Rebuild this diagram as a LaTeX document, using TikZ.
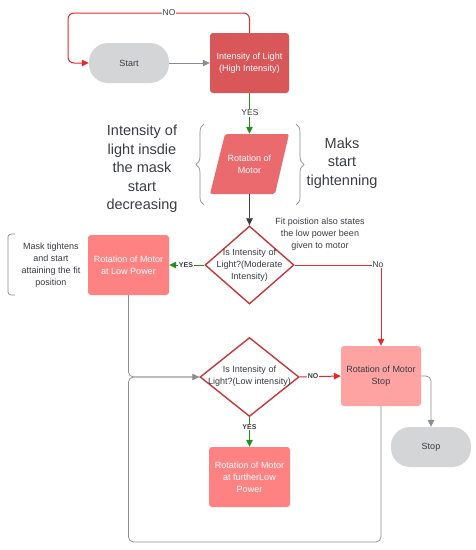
\documentclass[tikz,border=0pt]{standalone}
\usepackage{fontspec}
\setmainfont{Liberation Sans}
\usetikzlibrary{arrows.meta,shapes.geometric,decorations.pathreplacing}
\definecolor{dkred}{HTML}{D95659}
\definecolor{parared}{HTML}{EB6A6D}
\definecolor{lowred}{HTML}{FF8283}
\definecolor{stopred}{HTML}{FFA2A2}
\definecolor{pillgray}{HTML}{D4D5D7}
\definecolor{linered}{HTML}{E22A2A}
\definecolor{dmred}{HTML}{C8383B}
\definecolor{lgreen}{HTML}{1F8F1F}
\definecolor{lgray}{HTML}{8A8D91}
\definecolor{txt}{HTML}{3A3D42}
\begin{document}
\begin{tikzpicture}[x=1pt,y=-1pt,
  every node/.style={font=\fontsize{9}{12}\selectfont, text=txt, align=center},
  pill/.style={fill=pillgray, rounded corners=19, minimum width=80, minimum height=40, inner sep=0},
  boxdk/.style={fill=dkred, rounded corners=3, minimum width=79, minimum height=60, inner sep=0, text=white},
  boxlow/.style={fill=lowred, rounded corners=3, minimum width=81, minimum height=60, inner sep=0, text=white},
  boxstop/.style={fill=stopred, rounded corners=3, minimum width=80, minimum height=60, inner sep=0},
  dia/.style={diamond, draw=dmred, line width=1.4pt, fill=white, inner sep=0},
  tip/.style={-{Triangle[width=6.5pt,length=7pt]}},
  gline/.style={draw=lgray, line width=0.7pt},
  rline/.style={draw=linered, line width=1pt},
  grline/.style={draw=lgreen, line width=1pt},
  lab/.style={fill=white, inner sep=0.5pt, font=\fontsize{8.5}{10}\selectfont},
  blab/.style={fill=white, inner sep=0.5pt, font=\bfseries\fontsize{7}{8}\selectfont},
  big/.style={font=\fontsize{14.5}{18.5}\selectfont},
  brc/.style={draw=lgray, line width=0.7pt, decorate, decoration={brace, amplitude=8pt}}
]
\useasboundingbox[fill=white] (0,0) rectangle (476,550);

% nodes
\node[pill] (start) at (129,63) {Start};
\node[boxdk] (int) at (249.5,63) {Intensity of Light\\(High Intensity)};
\fill[parared, rounded corners=2] (225,134) -- (289,134) -- (275,194) -- (210,194) -- cycle;
\node[minimum width=50, minimum height=60, inner sep=0, text=white] (rot) at (249.5,164) {Rotation of\\Motor};
\node[dia, minimum width=89, minimum height=78] (d1) at (249.5,265) {};
\node (d1t) at (249.5,265) {Is Intensity of\\Light?(Moderate\\Intensity)};
\node[boxlow] (lp) at (128.5,265) {Rotation of Motor\\at Low Power};
\node[dia, minimum width=99, minimum height=79] (d2) at (249.5,377) {};
\node (d2t) at (249.5,376) {Is Intensity of\\Light?(Low intensity)};
\node[boxstop] (sm) at (381,376) {Rotation of Motor\\Stop};
\node[pill] (stop) at (431,447) {Stop};
\node[boxlow] (fl) at (249.5,477) {Rotation of Motor\\at furtherLow\\Power};

% annotations
\node[big] (tl) at (142,169) {Intensity of\\light insdie\\the mask\\start\\decreasing};
\node[big] (tr) at (342,163) {Maks\\start\\tightenning};
\node (fit) at (320,234) {Fit poistion also states\\the low power been\\given to motor};
\node (mask) at (51,265) {Mask tightens\\and start\\attaining the fit\\position};
\draw[brc] (204,205) -- (204,124);
\draw[brc] (296,124) -- (296,205);
\draw[draw=lgray, line width=0.7pt, rounded corners=3] (15,234) -- (8,234) -- (8,295) -- (15,295);

% coordinates
\coordinate (n1) at (68,13);
\coordinate (c2) at (128.5,542);

% connectors
\draw[gline, tip] (start.east) -- (int.west);
\draw[rline, tip, rounded corners=6] (int.north) |- (n1) |- (start.west);
\node[lab] (nolab) at (169,13) {NO};
\draw[grline, tip] (int.south) -- (rot.north);
\node[lab] (yes1) at (250,113) {YES};
\draw[draw=txt, line width=0.7pt, tip] (rot.south) -- (d1.north);
\draw[grline, tip] (d1.west) -- (lp.east);
\node[blab] (yes2) at (186,265) {YES};
\draw[rline, tip] (d1.east) -| (sm.north);
\node[lab] (no2) at (378,265) {No};
\draw[gline, tip, rounded corners=5] (lp.south) |- (d2.west);
\draw[gline, rounded corners=5] (sm.south) |- (c2) |- (d2.west);
\draw[rline, tip] (d2.east) -- (sm.west);
\node[blab] (no3) at (313,376) {NO};
\draw[grline, tip] (d2.south) -- (fl.north);
\node[blab] (yes3) at (249.5,427) {YES};
\draw[gline, tip, rounded corners=5] (sm.east) -| (stop.north);
\end{tikzpicture}
\end{document}
